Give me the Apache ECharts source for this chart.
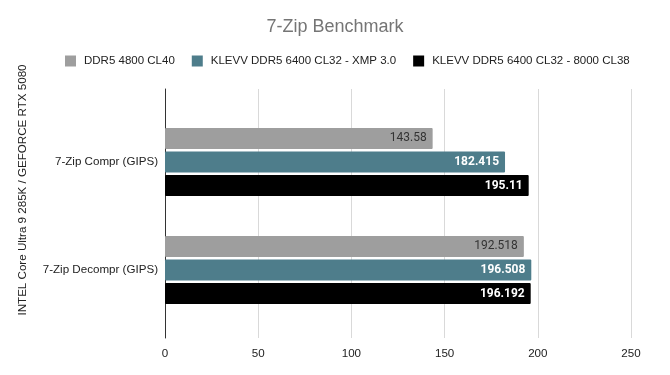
<!DOCTYPE html>
<html>
<head>
<meta charset="utf-8">
<script src="https://cdn.jsdelivr.net/npm/echarts@6/dist/echarts.min.js"></script>
<style>
  html, body { margin: 0; padding: 0; background: #fff; }
  #chart { width: 670px; height: 375px; }
</style>
</head>
<body>
<div id="chart"></div>
<script>
  "use strict";
  var categories = ['7-Zip Compr (GIPS)', '7-Zip Decompr (GIPS)'];
  var seriesNames = ['DDR5 4800 CL40', 'KLEVV DDR5 6400 CL32 - XMP 3.0', 'KLEVV DDR5 6400 CL32 - 8000 CL38'];
  var ddr4800 = [143.58, 192.518];
  var klevvXmp = [182.415, 196.508];
  var klevv8000 = [195.11, 196.192];
  var colors = ['#9e9e9e', '#4e7d8b', '#000000'];
  var labelColors = ['#333333', '#ffffff', '#ffffff'];
  var FONT = 'Liberation Sans, Arial, sans-serif';

  function barSeries(i, values) {
    return {
      name: seriesNames[i],
      type: 'bar',
      xAxisIndex: 1,
      yAxisIndex: 1,
      barWidth: 21,
      barGap: '12%',
      data: values,
      itemStyle: { color: colors[i], borderRadius: 1 },
      label: {
        show: true,
        position: 'insideRight',
        distance: 6,
        color: labelColors[i],
        fontFamily: 'Roboto, sans-serif',
        fontSize: 12,
        fontWeight: i === 0 ? 'normal' : 'bold'
      }
    };
  }

  var option = {
    animation: false,
    color: colors,
    title: {
      text: '7-Zip Benchmark',
      left: 'center',
      top: 13,
      textStyle: { fontFamily: FONT, fontSize: 18, fontWeight: 'normal', color: '#757575' }
    },
    legend: {
      data: seriesNames,
      left: 60,
      top: 50,
      itemWidth: 11,
      itemHeight: 11,
      itemGap: 17,
      icon: 'rect',
      textStyle: { fontFamily: FONT, fontSize: 11.5, color: '#222', padding: [0, 0, 0, 3] }
    },
    graphic: [{
      type: 'text',
      x: 23,
      y: 190,
      rotation: Math.PI / 2,
      style: {
        text: 'INTEL Core Ultra 9 285K / GEFORCE RTX 5080',
        fontFamily: FONT,
        fontSize: 11.6,
        fill: '#222',
        align: 'center',
        verticalAlign: 'middle'
      }
    }],
    grid: [
      { left: 165, right: 39, top: 89, bottom: 37 },
      { left: 165, right: 39, top: 108, bottom: 51 }
    ],
    xAxis: [
      {
        gridIndex: 0, type: 'value', min: 0, max: 250, interval: 50,
        axisLine: { show: false }, axisTick: { show: false },
        splitLine: { lineStyle: { color: '#d9d9d9', width: 1 } },
        axisLabel: { color: '#222', fontFamily: FONT, fontSize: 11.6, margin: 10 }
      },
      { gridIndex: 1, type: 'value', min: 0, max: 250, show: false, splitLine: { show: false } }
    ],
    yAxis: [
      {
        gridIndex: 0, type: 'category', data: [''],
        axisLine: { show: true, lineStyle: { color: '#333', width: 1 } },
        axisTick: { show: false }, axisLabel: { show: false }
      },
      {
        gridIndex: 1, type: 'category', data: categories, inverse: true,
        axisLine: { show: false }, axisTick: { show: false },
        axisLabel: { color: '#222', fontFamily: FONT, fontSize: 11.6, margin: 7 }
      }
    ],
    series: [
      barSeries(0, ddr4800),
      barSeries(1, klevvXmp),
      barSeries(2, klevv8000)
    ]
  };

  var chart = echarts.init(document.getElementById('chart'));
  chart.setOption(option);
</script>
</body>
</html>
